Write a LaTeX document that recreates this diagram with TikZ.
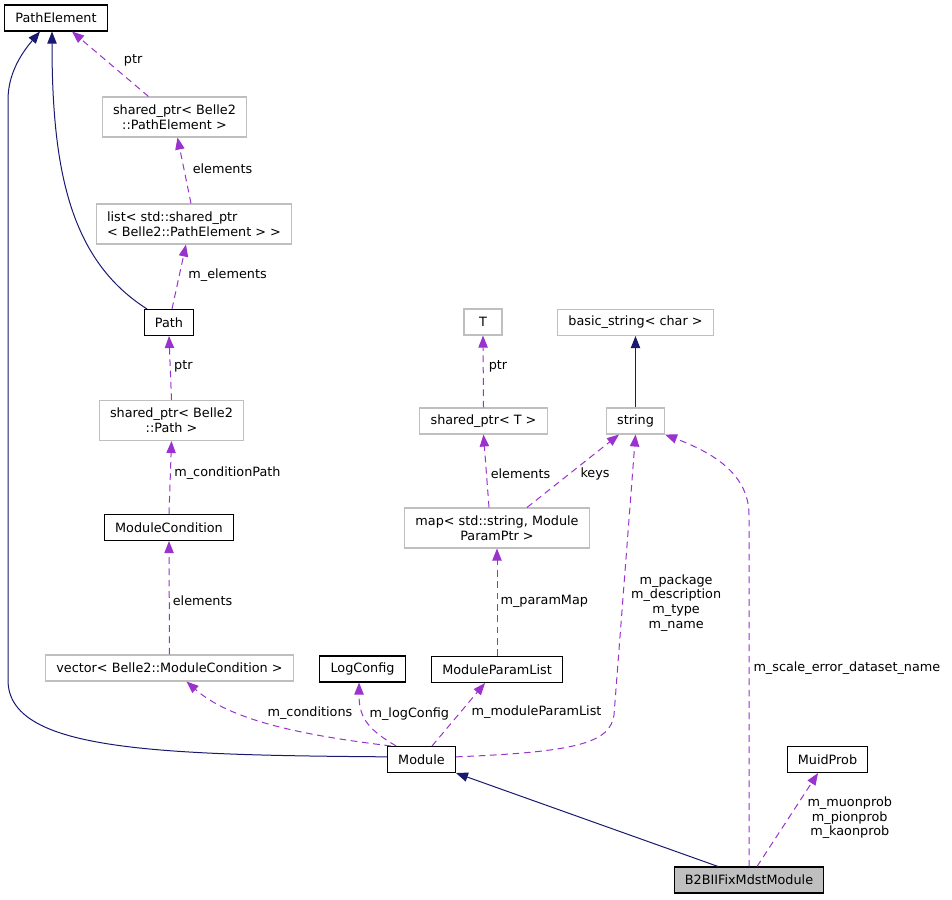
\documentclass[tikz,border=0pt]{standalone}
\usepackage{fontspec}
\setmainfont{DejaVu Sans}
\usetikzlibrary{arrows.meta}
\definecolor{inhblue}{HTML}{191970}
\definecolor{memberpurple}{HTML}{9A32CD}
\definecolor{extgray}{HTML}{BFBFBF}
\begin{document}
\begin{tikzpicture}[x=0.75pt, y=-0.75pt, >={Triangle[length=9pt,width=7pt]},
class node/.style={rectangle,draw=black,line width=0.8pt,minimum height=19.5pt,inner xsep=8pt,inner ysep=4pt,align=center},
ext node/.style={class node,draw=extgray},
two line/.style={minimum height=30pt},
inherit edge/.style={->,color=inhblue,line width=0.75pt},
member edge/.style={->,color=memberpurple,line width=0.75pt,dash pattern=on 5pt off 3.5pt},
edge label/.style={text=black,inner sep=1pt,align=center,font=\fontsize{9.6}{11}\selectfont}]
\useasboundingbox (0,0) rectangle (952,899);
\begin{scope}[every node/.append style={font=\fontsize{9.6}{11.2}\selectfont}]
\node[class node] (pathelem) at (56,18) {PathElement};
\node[ext node,two line] (sppathelem) at (174.5,117) {shared\_ptr< Belle2\\::PathElement >};
\node[ext node,two line,align=left] (pathlist) at (194,224) {list< std::shared\_ptr\\< Belle2::PathElement > >};
\node[class node] (path) at (169,322.5) {Path};
\node[ext node,two line] (sppath) at (171.5,420.5) {shared\_ptr< Belle2\\::Path >};
\node[class node] (modcond) at (169,527.5) {ModuleCondition};
\node[ext node] (condvec) at (169.5,668) {vector< Belle2::ModuleCondition >};
\node[class node] (logcfg) at (362.5,669) {LogConfig};
\node[class node] (paramlist) at (497,669.5) {ModuleParamList};
\node[class node] (module) at (421.5,759.5) {Module};
\node[ext node,minimum width=28.5pt] (tparam) at (483,322) {T};
\node[ext node] (basicstr) at (635.5,322.5) {basic\_string< char >};
\node[ext node] (spt) at (483.5,421) {shared\_ptr< T >};
\node[ext node] (str) at (635.5,421) {string};
\node[ext node,two line] (parammap) at (497,528) {map< std::string, Module\\ParamPtr >};
\node[class node] (muid) at (827.5,759.5) {MuidProb};
\node[class node,fill=extgray] (fixmdst) at (749,880) {B2BIIFixMdstModule};%main class
\end{scope}
\begin{scope}
% inheritance
\draw[inherit edge] ([xshift=-16.5pt]path.north) .. controls (70,260) and (52,170) .. ([xshift=-3pt]pathelem.south);
\draw[inherit edge] ([yshift=2pt]module.west) .. controls (150,755) and (8,750) .. (8,680) -- (8,100) .. controls (8,75) and (20,55) .. ([xshift=-12pt]pathelem.south);
\draw (str.north) edge[inherit edge] (basicstr.south);
\draw[inherit edge] ([xshift=-23.25pt]fixmdst.north) -- (module.south east);
% members
\draw ([xshift=-19.5pt]sppathelem.north) edge[member edge] node[edge label,pos=0.55,anchor=west,xshift=11.8pt]{ptr} ([xshift=12pt]pathelem.south);
\draw ([xshift=-2.25pt]pathlist.north) edge[member edge] node[edge label,pos=0.52,anchor=west,xshift=5.2pt]{elements} ([xshift=2.25pt]sppathelem.south);
\draw ([xshift=2.25pt]path.north) edge[member edge] node[edge label,pos=0.52,anchor=west,xshift=5.5pt]{m\_elements} ([xshift=-6pt]pathlist.south);
\draw (sppath.north) edge[member edge] node[edge label,pos=0.53,anchor=west,xshift=1.6pt]{ptr} (path.south);
\draw (modcond.north) edge[member edge] node[edge label,pos=0.56,anchor=west,xshift=1.6pt]{m\_conditionPath} (sppath.south);
\draw (condvec.north) edge[member edge] node[edge label,pos=0.47,anchor=west,xshift=1.3pt]{elements} (modcond.south);
\draw[member edge] ([xshift=3pt]module.north west) .. controls (300,735) and (230,720) .. node[edge label,pos=0.33,xshift=1.5pt,yshift=15pt]{m\_conditions} ([xshift=12.75pt]condvec.south);
\draw[member edge] ([xshift=-19pt]module.north) .. controls (365,728) and (359,715) .. node[edge label,pos=0.6,anchor=west,xshift=3.5pt]{m\_logConfig} ([xshift=-2.6pt]logcfg.south);
\draw ([xshift=7.9pt]module.north) edge[member edge] node[edge label,pos=0.53,anchor=west,xshift=7.3pt]{m\_moduleParamList} ([xshift=-9pt]paramlist.south);
\draw (paramlist.north) edge[member edge] node[edge label,pos=0.505,anchor=west,xshift=1.3pt]{m\_paramMap} (parammap.south);
\draw ([xshift=-6pt]parammap.north) edge[member edge] node[edge label,pos=0.466,anchor=west,xshift=1.9pt]{elements} (spt.south);
\draw ([xshift=22.5pt]parammap.north) edge[member edge] node[edge label,pos=0.466,anchor=west,xshift=6.6pt]{keys} ([xshift=-12.4pt]str.south);
\draw (spt.north) edge[member edge] node[edge label,pos=0.575,anchor=west,xshift=2.8pt]{ptr} (tparam.south);
\draw[member edge] ([yshift=2pt]module.east) .. controls (580,752) and (610,742) .. (614,715) -- node[edge label,pos=0.4,anchor=west,xshift=5pt]{m\_package\\m\_description\\m\_type\\m\_name} (str.south);
\draw[member edge] (fixmdst.north) -- node[edge label,pos=0.565,anchor=west,xshift=2pt]{m\_scale\_error\_dataset\_name} (749,515) .. controls (749,470) and (705,450) .. (str.south east);
\draw ([xshift=6pt]fixmdst.north) edge[member edge] node[edge label,pos=0.52,anchor=west,xshift=12.7pt]{m\_muonprob\\m\_pionprob\\m\_kaonprob} ([xshift=-7.1pt]muid.south);
\end{scope}
\end{tikzpicture}
\end{document}
